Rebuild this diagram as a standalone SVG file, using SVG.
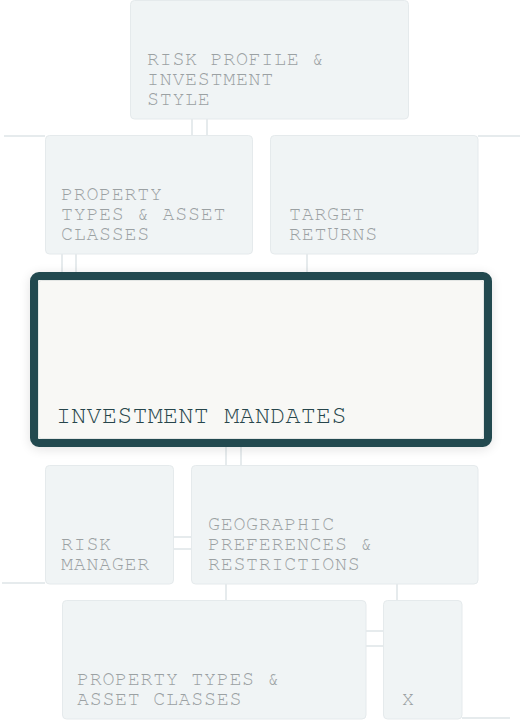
<svg xmlns="http://www.w3.org/2000/svg" width="528" height="720" viewBox="0 0 528 720">
<style>
.box{fill:#f0f4f5;stroke:#e5eaec;stroke-width:1}
.lbl{font-family:"Nimbus Mono PS","Nimbus Mono L","FreeMono","Courier 10 Pitch","Courier","Liberation Mono",monospace;font-size:20px;letter-spacing:0.7px;fill:#9ba1a3}
.main{font-family:"Nimbus Mono PS","Nimbus Mono L","FreeMono","Courier 10 Pitch","Courier","Liberation Mono",monospace;font-size:25px;letter-spacing:0.3px;fill:#27464b}
.conn{stroke:#e6ebed;stroke-width:2;fill:none}
</style>
<defs>
<filter id="sh" x="-10%" y="-20%" width="120%" height="140%">
<feGaussianBlur in="SourceAlpha" stdDeviation="6"/>
<feOffset dy="2"/>
<feComponentTransfer><feFuncA type="linear" slope="0.12"/></feComponentTransfer>
<feMerge><feMergeNode/><feMergeNode in="SourceGraphic"/></feMerge>
</filter>
</defs>
<rect width="528" height="720" fill="#ffffff"/>
<g id="connectors">
<line class="conn" x1="192" y1="119" x2="192" y2="135"/>
<line class="conn" x1="207" y1="119" x2="207" y2="135"/>
<line class="conn" x1="4" y1="136" x2="45" y2="136"/>
<line class="conn" x1="478" y1="136" x2="520" y2="136"/>
<line class="conn" x1="62" y1="254" x2="62" y2="272"/>
<line class="conn" x1="76" y1="254" x2="76" y2="272"/>
<line class="conn" x1="307" y1="254" x2="307" y2="272"/>
<line class="conn" x1="226" y1="447" x2="226" y2="465"/>
<line class="conn" x1="241" y1="447" x2="241" y2="465"/>
<line class="conn" x1="173" y1="537" x2="191" y2="537"/>
<line class="conn" x1="173" y1="549" x2="191" y2="549"/>
<line class="conn" x1="2" y1="583" x2="45" y2="583"/>
<line class="conn" x1="226" y1="584" x2="226" y2="600"/>
<line class="conn" x1="397" y1="584" x2="397" y2="600"/>
<line class="conn" x1="366" y1="631" x2="383" y2="631"/>
<line class="conn" x1="366" y1="646" x2="383" y2="646"/>
<line class="conn" x1="462" y1="718" x2="510" y2="718"/>
</g>
<g id="risk-profile">
<rect class="box" x="130.5" y="0.5" width="278" height="118.5" rx="4"/>
<text class="lbl" x="147" y="65">RISK PROFILE &amp;</text>
<text class="lbl" x="147" y="85">INVESTMENT</text>
<text class="lbl" x="147" y="105">STYLE</text>
</g>
<g id="property-types-top">
<rect class="box" x="45.5" y="135.5" width="207" height="118.5" rx="4"/>
<text class="lbl" x="61" y="200">PROPERTY</text>
<text class="lbl" x="61" y="220">TYPES &amp; ASSET</text>
<text class="lbl" x="61" y="240">CLASSES</text>
</g>
<g id="target-returns">
<rect class="box" x="270.5" y="135.5" width="207.5" height="118.5" rx="4"/>
<text class="lbl" x="289" y="220">TARGET</text>
<text class="lbl" x="289" y="240">RETURNS</text>
</g>
<g id="investment-mandates">
<rect x="34" y="276" width="454" height="167" rx="5" fill="#f8f8f5" stroke="#244a50" stroke-width="8" filter="url(#sh)"/>
<rect x="38.5" y="280.5" width="445" height="158" rx="3" fill="none" stroke="#e3e6e4" stroke-width="1"/>
<text class="main" x="56" y="423">INVESTMENT MANDATES</text>
</g>
<g id="risk-manager">
<rect class="box" x="45.5" y="465.5" width="128" height="118.5" rx="4"/>
<text class="lbl" x="61" y="550">RISK</text>
<text class="lbl" x="61" y="570">MANAGER</text>
</g>
<g id="geographic">
<rect class="box" x="191.5" y="465.5" width="286.5" height="118.5" rx="4"/>
<text class="lbl" x="208" y="530">GEOGRAPHIC</text>
<text class="lbl" x="208" y="550">PREFERENCES &amp;</text>
<text class="lbl" x="208" y="570">RESTRICTIONS</text>
</g>
<g id="property-types-bottom">
<rect class="box" x="62.5" y="600.5" width="303.5" height="118.5" rx="4"/>
<text class="lbl" x="77" y="685">PROPERTY TYPES &amp;</text>
<text class="lbl" x="77" y="705">ASSET CLASSES</text>
</g>
<g id="x-node">
<rect class="box" x="383.5" y="600.5" width="78.5" height="118.5" rx="4"/>
<text class="lbl" x="402" y="705">X</text>
</g>
</svg>
